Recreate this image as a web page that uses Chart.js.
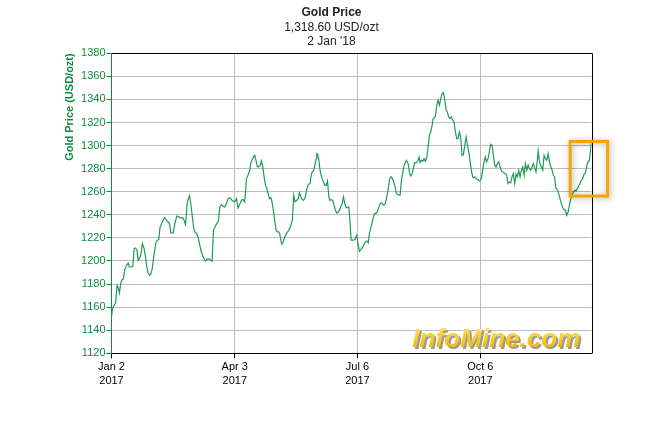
<!DOCTYPE html>
<html>
<head>
<meta charset="utf-8">
<script src="https://cdn.jsdelivr.net/npm/chart.js@4/dist/chart.umd.min.js"></script>
<style>
body{margin:0;background:#fff}
</style>
</head>
<body>
<canvas id="c" width="663" height="434"></canvas>
<script>
// trading sessions since Jan 2 2017, and the gold price (USD/ozt)
const sessions = [
  0.2,0.7,1.6,2.3,3.1,3.6,4.3,5.0,5.7,6.4,7.1,8.0,8.9,9.5,10.6,11.3,12.0,12.7,13.4,14.1,
  14.9,15.6,16.3,17.2,17.9,18.6,19.3,20.1,20.7,21.4,22.2,23.3,24.0,24.8,25.5,26.2,27.1,27.9,28.6,29.7,
  30.4,31.1,32.3,33.2,34.2,35.2,36.3,37.3,38.0,38.7,39.1,39.6,40.1,40.8,41.5,42.2,42.9,43.6,44.4,45.3,
  46.2,47.0,48.1,49.1,50.2,51.0,51.9,52.6,53.3,54.3,55.0,55.9,56.6,57.5,58.3,59.2,60.1,60.9,62.0,63.0,
  63.5,64.4,65.3,66.1,67.0,67.9,68.7,69.6,70.5,71.3,72.2,72.7,73.4,74.1,74.8,75.5,76.2,76.9,77.6,78.3,
  79.0,79.7,80.4,81.1,81.8,82.5,83.2,83.8,84.5,85.2,85.9,86.6,87.3,87.8,88.4,88.9,89.6,90.4,91.3,92.2,
  93.0,93.9,94.4,95.1,95.8,96.7,97.4,98.1,98.8,99.5,100.2,100.9,101.5,102.2,102.9,103.6,104.2,104.7,105.4,106.1,
  106.8,107.1,107.6,108.1,108.7,109.2,109.9,110.6,111.3,112.0,112.7,113.4,114.0,114.7,115.4,116.1,116.8,117.5,118.2,118.9,
  119.6,120.3,121.0,121.7,122.4,123.1,123.8,124.5,125.0,125.9,126.9,127.9,128.6,129.3,130.0,131.1,132.1,133.1,134.0,134.5,
  135.4,136.6,137.3,138.3,139.2,140.1,141.0,141.8,142.7,143.6,144.2,145.1,146.0,146.9,147.7,148.6,149.5,150.5,151.2,152.1,
  152.9,153.8,154.7,155.5,156.1,156.8,157.4,158.1,159.0,159.9,160.4,160.9,161.6,162.3,163.0,163.7,164.4,165.1,165.8,166.5,
  167.2,167.7,168.6,169.1,169.6,170.3,171.0,171.7,172.4,173.1,173.8,174.5,175.1,175.8,176.5,177.2,177.9,178.6,179.3,180.0,
  180.7,181.4,182.1,182.8,183.5,184.2,184.9,185.6,186.3,187.0,187.6,188.3,188.7,189.4,190.2,191.1,192.0,192.9,193.5,194.2,
  194.9,195.5,196.3,197.0,197.7,198.4,199.1,199.8,200.5,201.2,201.9,202.6,203.3,204.0,204.7,205.4,206.0,206.7,207.4,208.1,
  208.8,209.5,210.2,210.9,211.6,212.3,213.0,213.7,214.4,215.1,215.8,216.5,217.2,217.9,218.5,219.2,219.9,220.6,221.3,222.0,
  222.4,222.9,223.4,224.1,224.8,225.5,226.2,226.9,227.6,228.3,229.0,229.7,230.3,231.0,231.7,232.4,233.1,233.8,234.5,235.2,
  235.9,236.6,237.3,238.0,238.7,239.4,240.1,240.8,241.5,242.2,242.8,243.5,244.2,244.9,245.6,246.3,247.0,247.7,248.4,249.1,
  249.8,250.1
];
const prices = [
  1151.5,1158.7,1161.6,1163.6,1178.9,1177.5,1172.3,1180.4,1183.8,1184.7,1192.5,1196.3,1198.3,1194.8,1194.8,1195.4,1210.7,1211.3,1209.8,1200.6,
  1202.9,1206.4,1215.0,1210.7,1203.5,1194.8,1189.6,1187.6,1188.5,1193.4,1203.5,1215.6,1217.9,1218.5,1229.5,1231.8,1235.3,1237.6,1235.8,1233.8,
  1232.4,1224.3,1224.3,1232.4,1239.0,1238.2,1237.3,1237.6,1235.3,1231.8,1238.2,1249.7,1253.2,1256.6,1249.7,1239.6,1229.5,1225.2,1224.3,1220.8,
  1213.6,1207.8,1202.9,1200.0,1201.8,1201.8,1200.6,1199.7,1226.6,1230.1,1232.4,1234.7,1246.8,1248.8,1247.4,1246.8,1249.7,1254.0,1254.9,1252.6,
  1252.0,1251.2,1254.0,1246.0,1249.1,1252.6,1253.2,1251.2,1271.4,1274.3,1278.6,1285.0,1287.3,1290.2,1291.6,1286.7,1281.5,1281.5,1282.9,1286.7,
  1281.5,1272.8,1265.6,1262.7,1258.4,1254.0,1254.9,1251.2,1243.9,1235.3,1226.6,1225.2,1225.2,1223.7,1217.9,1214.5,1216.5,1220.8,1223.7,1226.0,
  1228.0,1232.4,1235.3,1256.9,1251.2,1252.6,1254.0,1259.2,1255.5,1253.2,1252.6,1254.0,1258.4,1264.2,1266.5,1267.0,1274.3,1277.2,1278.0,1282.9,
  1288.7,1293.0,1292.5,1288.7,1280.0,1275.7,1271.4,1268.5,1265.6,1265.6,1269.4,1255.5,1252.6,1253.2,1252.6,1248.3,1243.9,1241.6,1242.5,1243.9,
  1246.8,1249.7,1255.5,1249.7,1246.2,1246.2,1246.8,1232.4,1218.0,1218.0,1218.5,1222.3,1215.1,1208.4,1209.9,1212.2,1215.7,1217.4,1215.7,1223.7,
  1229.5,1238.2,1241.1,1241.7,1245.4,1249.7,1250.3,1248.3,1249.2,1255.5,1261.3,1271.4,1272.9,1270.0,1265.6,1258.4,1257.5,1257.0,1270.0,1278.6,
  1284.4,1287.3,1284.4,1275.7,1273.7,1275.7,1280.1,1285.3,1285.3,1287.3,1290.2,1285.3,1287.3,1286.4,1288.7,1286.4,1289.3,1298.9,1309.5,1311.9,
  1317.6,1323.4,1324.3,1327.7,1335.0,1339.3,1335.0,1340.7,1345.1,1345.9,1339.3,1330.6,1329.2,1324.9,1323.4,1324.9,1322.0,1320.5,1311.9,1306.1,
  1306.1,1311.9,1306.7,1291.6,1292.2,1300.3,1307.5,1300.3,1294.5,1285.9,1278.6,1272.9,1272.0,1272.9,1271.4,1270.5,1269.4,1271.4,1278.6,1285.9,
  1290.2,1285.9,1288.7,1294.5,1301.2,1300.3,1291.6,1283.0,1281.5,1284.4,1285.9,1281.5,1278.0,1277.2,1276.3,1275.7,1274.3,1267.1,1268.5,1267.7,
  1272.9,1275.7,1267.1,1275.2,1272.9,1278.6,1272.9,1278.6,1281.5,1274.3,1284.4,1278.6,1283.0,1280.1,1278.6,1281.5,1284.4,1280.9,1277.2,1287.3,
  1295.4,1288.7,1284.4,1281.5,1278.6,1291.6,1288.7,1287.3,1293.1,1285.9,1281.5,1278.6,1274.3,1272.9,1262.7,1261.9,1258.4,1254.1,1249.7,1246.3,
  1244.5,1244.0,1239.6,1242.5,1248.3,1254.1,1257.0,1259.9,1261.3,1260.7,1262.7,1264.8,1267.1,1270.0,1271.4,1275.2,1276.3,1281.5,1285.9,1287.3,
  1297.4,1301.7
];
const tickDays = [0.2, 64.4, 128.3, 192.3];
const tickLabels = [['Jan 2', '2017'], ['Apr 3', '2017'], ['Jul 6', '2017'], ['Oct 6', '2017']];
const headerLines = ['Gold Price', '1,318.60 USD/ozt', "2 Jan '18"];

const green = '#0c8a40';
const gridGrey = '#bdbdbd';

const extras = {
  id: 'extras',
  afterDraw(chart) {
    const ctx = chart.ctx;
    const a = chart.chartArea;
    const xs = chart.scales.x, ys = chart.scales.y;
    ctx.save();
    // top and right frame
    ctx.strokeStyle = '#000';
    ctx.lineWidth = 1;
    ctx.beginPath();
    ctx.moveTo(Math.round(a.left) + 0.5, Math.round(a.top) + 0.5);
    ctx.lineTo(Math.round(a.right) + 0.5, Math.round(a.top) + 0.5);
    ctx.lineTo(Math.round(a.right) + 0.5, Math.round(a.bottom) + 0.5);
    ctx.stroke();

    // header
    ctx.fillStyle = '#222';
    ctx.textAlign = 'center';
    ctx.textBaseline = 'middle';
    const cx = chart.width / 2;
    ctx.font = 'bold 12px "Liberation Sans", Arial, sans-serif';
    ctx.fillText(headerLines[0], cx, 13);
    ctx.font = '12px "Liberation Sans", Arial, sans-serif';
    ctx.fillText(headerLines[1], cx, 28);
    ctx.fillText(headerLines[2], cx, 42);

    // watermark
    const wm = 'InfoMine.com';
    ctx.font = 'italic bold 25px "Liberation Sans", Arial, sans-serif';
    const fs = 25 * 168 / ctx.measureText(wm).width;
    ctx.font = 'italic bold ' + fs.toFixed(1) + 'px "Liberation Sans", Arial, sans-serif';
    ctx.textAlign = 'right';
    ctx.textBaseline = 'alphabetic';
    const wx = a.right - 11, wy = a.bottom - 6.5;
    ctx.fillStyle = '#9a9a9a';
    ctx.fillText(wm, wx + 2, wy + 2);
    const g = ctx.createLinearGradient(0, wy - 18, 0, wy);
    g.addColorStop(0, '#ffdd55');
    g.addColorStop(1, '#f3b90a');
    ctx.fillStyle = g;
    ctx.fillText(wm, wx, wy);

    // highlight box on the latest move
    const x0 = xs.getPixelForValue(239.1), x1 = xs.getPixelForValue(258.6);
    const y0 = ys.getPixelForValue(1303.6), y1 = ys.getPixelForValue(1256.3);
    ctx.shadowColor = 'rgba(0,0,0,0.35)';
    ctx.shadowBlur = 6;
    ctx.shadowOffsetX = 1;
    ctx.shadowOffsetY = 1;
    ctx.strokeStyle = '#f5a400';
    ctx.lineWidth = 3;
    ctx.strokeRect(x0, y0, x1 - x0, y1 - y0);
    ctx.restore();
  }
};

new Chart(document.getElementById('c').getContext('2d'), {
  type: 'line',
  data: {
    datasets: [{
      data: sessions.map((s, i) => ({x: s, y: prices[i]})),
      borderColor: '#1f9a57',
      borderWidth: 1.2,
      pointRadius: 0,
      tension: 0,
      fill: false
    }]
  },
  options: {
    responsive: false,
    animation: false,
    devicePixelRatio: 1,
    layout: {padding: {top: 53.3, right: 71.5, left: 0, bottom: 0}},
    plugins: {legend: {display: false}, tooltip: {enabled: false}},
    scales: {
      x: {
        type: 'linear',
        min: 0.2,
        max: 250.2,
        afterBuildTicks: s => { s.ticks = tickDays.map(v => ({value: v})); },
        afterFit: s => { s.height = 80.7; },
        ticks: {
          autoSkip: false,
          maxRotation: 0,
          padding: 2,
          color: '#000',
          font: {family: '"Liberation Sans", Arial, sans-serif', size: 11, lineHeight: 1.25},
          callback: (v, i) => tickLabels[i]
        },
        grid: {color: gridGrey, tickColor: '#000', tickLength: 5},
        border: {color: '#000'}
      },
      y: {
        min: 1120,
        max: 1380,
        afterFit: s => { s.width = 111.5; },
        ticks: {
          stepSize: 20,
          padding: 1,
          color: green,
          font: {family: '"Liberation Sans", Arial, sans-serif', size: 11},
          callback: v => String(v)
        },
        grid: {
          color: c => (c.tick && c.tick.value === 1380 ? '#000' : gridGrey),
          tickColor: green,
          tickLength: 5
        },
        border: {color: green},
        title: {
          display: true,
          text: 'Gold Price (USD/ozt)',
          align: 'end',
          color: green,
          font: {family: '"Liberation Sans", Arial, sans-serif', size: 11, weight: 'bold'},
          padding: {top: 63.4, bottom: 0}
        }
      }
    }
  },
  plugins: [extras]
});
</script>
</body>
</html>
